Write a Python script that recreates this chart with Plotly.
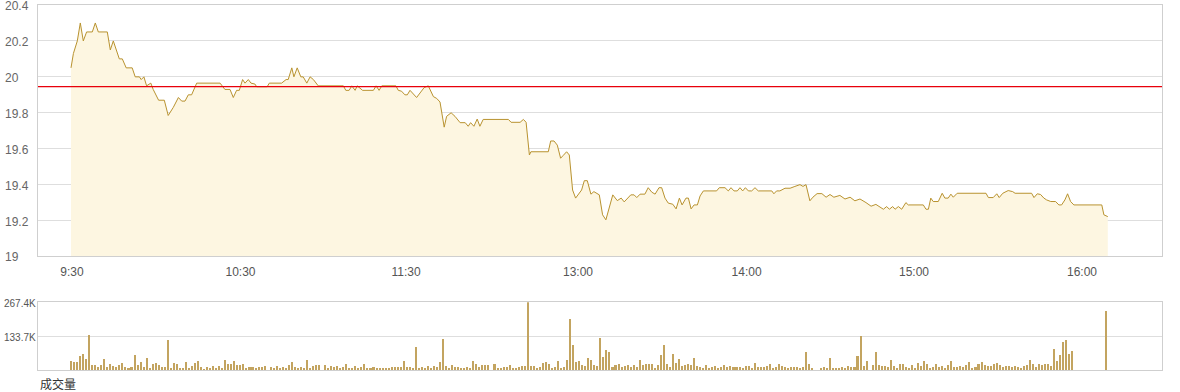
import plotly.graph_objects as go

# ---------------- data ----------------
price_idx = [0.0,0.8,2.1,3.1,4.1,5.2,7.1,8.1,9.1,12.1,13.1,14.1,16.1,17.1,18.4,20.4,21.4,22.8,23.4,24.3,
             25.2,26.6,27.4,29.2,31.1,32.4,34.1,35.8,36.9,38.0,39.1,40.2,41.9,49.7,51.3,53.0,54.1,55.2,56.1,57.2,
             58.0,59.1,60.0,61.3,61.9,65.4,66.1,70.2,71.7,72.4,73.6,74.3,75.4,76.6,77.4,78.6,79.7,80.8,82.4,90.8,
             91.6,92.7,93.6,94.7,95.4,97.2,100.8,101.7,102.7,103.6,108.3,109.1,110.2,111.3,112.1,113.0,115.2,117.7,119.1,120.8,
             121.9,123.0,124.4,125.2,126.7,128.0,129.7,131.4,132.4,133.2,134.3,135.4,136.3,137.4,145.8,146.7,149.7,150.8,151.7,152.4,
             152.8,153.3,159.1,159.9,161.0,162.1,163.2,164.1,165.2,166.1,166.7,167.2,168.2,169.1,170.2,171.1,172.1,173.3,174.3,176.1,
             177.2,178.3,179.4,180.6,182.1,183.4,184.4,186.6,187.7,188.6,189.7,191.3,192.4,193.6,194.7,196.0,196.9,198.0,199.1,200.6,
             201.7,202.8,203.7,205.0,205.8,206.7,207.7,208.8,209.7,210.8,215.2,216.1,218.0,219.1,220.0,221.0,222.1,223.0,223.9,224.8,
             225.8,226.9,228.0,229.1,233.6,234.3,235.2,236.3,238.0,239.7,241.3,243.0,244.0,245.0,246.3,247.3,248.7,250.3,251.7,253.0,
             254.3,256.3,258.0,259.7,261.3,263.0,265.0,266.7,268.3,269.7,270.8,271.9,272.8,273.9,274.7,275.8,276.9,278.3,279.1,284.1,
             285.0,285.8,286.6,287.4,289.1,290.4,291.3,292.4,293.3,294.1,295.4,305.0,305.8,307.4,308.6,309.4,310.6,312.4,313.9,314.7,
             320.2,321.0,322.1,323.2,324.3,325.2,326.6,328.2,329.3,330.2,331.3,332.2,333.2,334.3,343.6,344.3,345.6]

price = [20.05,20.13,20.20,20.30,20.20,20.25,20.25,20.30,20.25,20.25,20.15,20.20,20.10,20.10,20.05,20.05,20.00,20.00,19.985,20.00,
         19.95,19.965,19.93,19.87,19.87,19.785,19.83,19.885,19.865,19.865,19.90,19.90,19.965,19.965,19.93,19.93,19.885,19.925,19.925,19.985,
         19.965,19.985,19.965,19.96,19.945,19.945,19.965,19.965,19.985,19.985,20.05,20.00,20.05,20.00,20.00,19.965,20.00,19.985,19.95,19.95,
         19.925,19.925,19.95,19.925,19.95,19.925,19.925,19.95,19.925,19.95,19.95,19.925,19.92,19.90,19.90,19.925,19.885,19.94,19.95,19.89,
         19.88,19.86,19.72,19.78,19.80,19.78,19.745,19.745,19.725,19.745,19.725,19.765,19.725,19.763,19.763,19.747,19.747,19.763,19.747,19.652,
         19.565,19.583,19.583,19.643,19.643,19.62,19.547,19.563,19.583,19.565,19.472,19.37,19.325,19.347,19.37,19.422,19.422,19.347,19.361,19.343,
         19.232,19.204,19.278,19.343,19.311,19.325,19.304,19.343,19.343,19.328,19.347,19.347,19.383,19.358,19.347,19.383,19.383,19.325,19.297,19.291,
         19.265,19.325,19.287,19.325,19.325,19.265,19.287,19.287,19.337,19.365,19.365,19.383,19.383,19.365,19.383,19.365,19.365,19.383,19.365,19.383,
         19.365,19.365,19.383,19.365,19.365,19.349,19.365,19.365,19.38,19.38,19.39,19.40,19.39,19.40,19.31,19.33,19.35,19.35,19.33,19.345,
         19.33,19.34,19.32,19.33,19.31,19.32,19.30,19.28,19.29,19.275,19.263,19.278,19.263,19.278,19.263,19.278,19.263,19.30,19.287,19.287,
         19.263,19.263,19.325,19.306,19.306,19.352,19.325,19.325,19.347,19.33,19.352,19.352,19.328,19.328,19.349,19.328,19.352,19.367,19.361,19.352,
         19.352,19.328,19.349,19.345,19.325,19.315,19.306,19.306,19.287,19.287,19.315,19.349,19.306,19.287,19.287,19.232,19.222]

prev_close = 19.946

# per-minute volume, in thousands of shares
volume_k = [32.8,28.8,28.8,52.4,60.3,40.6,139.0,17.0,20.0,9.2,17.0,40.6,9.2,21.0,13.1,9.2,17.0,24.9,9.2,5.2,
            9.2,56.4,17.0,28.8,9.2,44.6,5.2,21.0,24.9,17.0,9.2,9.2,119.3,5.2,24.9,21.0,5.2,5.2,28.8,5.2,
            13.1,24.9,32.8,9.2,1.0,9.2,5.2,13.1,5.2,13.1,5.2,36.7,21.0,21.0,32.8,17.0,17.0,21.0,5.2,9.2,
            9.2,5.2,9.2,9.2,13.1,0.0,9.2,5.2,13.1,5.2,9.2,5.2,17.0,28.8,9.2,5.2,9.2,5.2,36.7,5.2,
            13.1,17.0,17.0,0.0,17.0,5.2,13.1,9.2,13.1,5.2,9.2,21.0,5.2,5.2,13.1,5.2,9.2,21.0,5.2,5.2,
            9.2,5.2,5.2,5.2,5.2,5.2,9.2,9.2,9.2,9.2,32.8,9.2,9.2,5.2,87.8,
            5.2,9.2,5.2,13.1,5.2,13.1,9.2,28.8,123.2,13.1,5.2,17.0,9.2,9.2,5.2,5.2,9.2,5.2,32.8,21.0,
            9.2,17.0,17.0,17.0,0.0,21.0,5.2,5.2,9.2,9.2,17.0,5.2,5.2,9.2,13.1,13.1,267.4,13.1,13.1,5.2,
            9.2,24.9,28.8,21.0,5.2,9.2,32.8,5.2,9.2,36.7,201.9,95.7,28.8,32.8,17.0,13.1,44.6,36.7,17.0,13.1,
            127.2,48.5,76.0,68.2,9.2,17.0,21.0,9.2,13.1,17.0,9.2,17.0,9.2,36.7,17.0,21.0,21.0,21.0,5.2,17.0,
            56.4,95.7,21.0,9.2,60.3,24.9,40.6,13.1,17.0,21.0,17.0,44.6,13.1,9.2,5.2,17.0,5.2,9.2,13.1,5.2,
            9.2,17.0,9.2,13.1,9.2,9.2,9.2,5.2,13.1,13.1,5.2,24.9,9.2,9.2,9.2,13.1,21.0,5.2,9.2,
            21.0,13.1,9.2,5.2,9.2,9.2,9.2,5.2,9.2,68.2,21.0,5.2,0.0,0.0,5.2,9.2,5.2,44.6,5.2,5.2,
            5.2,9.2,5.2,13.1,9.2,9.2,52.4,135.0,13.1,32.8,0.0,17.0,68.2,17.0,13.1,13.1,9.2,36.7,13.1,5.2,
            21.0,21.0,9.2,5.2,17.0,5.2,24.9,13.1,32.8,21.0,5.2,9.2,21.0,9.2,13.1,5.2,17.0,32.8,9.2,9.2,
            13.1,9.2,17.0,28.8,5.2,9.2,21.0,28.8,17.0,13.1,13.1,21.0,24.9,17.0,9.2,13.1,13.1,9.2,13.1,9.2,
            5.2,13.1,17.0,36.7,21.0,9.2,21.0,17.0,21.0,21.0,13.1,80.0,32.8,56.4,107.5,119.3,60.3,72.1]
closing_auction_idx = 342
closing_auction_k = 233.4

time_tick_idx = [0.3, 56.5, 111.7, 169.0, 225.2, 281.0, 337.0]
time_tick_text = ["9:30", "10:30", "11:30", "13:00", "14:00", "15:00", "16:00"]
price_ticks = [19.0, 19.2, 19.4, 19.6, 19.8, 20.0, 20.2, 20.4]
price_tick_text = ["19", "19.2", "19.4", "19.6", "19.8", "20", "20.2", "20.4"]
vol_ticks = [0, 133.7, 267.4]
vol_tick_text = ["", "133.7K", "267.4K"]
volume_title = "成交量"

# ---------------- figure ----------------
LINE = "#b8922f"
FILL = "#fdf6e1"
BAR = "#c3a460"
FONT = "Liberation Sans, Arial, sans-serif"

fig = go.Figure()
fig.add_trace(go.Scatter(x=price_idx, y=price, mode="lines",
                         line=dict(color=LINE, width=1), fill="tozeroy", fillcolor=FILL,
                         xaxis="x", yaxis="y", hoverinfo="skip", showlegend=False))
fig.add_trace(go.Bar(x=list(range(len(volume_k))) + [closing_auction_idx],
                     y=volume_k + [closing_auction_k],
                     marker=dict(color=BAR, line=dict(width=0)), width=0.68,
                     xaxis="x2", yaxis="y2", hoverinfo="skip", showlegend=False))

fig.add_shape(type="line", xref="x domain", yref="y", x0=0, x1=1, y0=prev_close, y1=prev_close,
              line=dict(color="#e8000b", width=1.3), layer="above")

annotations = []
for v, t in zip(price_ticks, price_tick_text):
    annotations.append(dict(xref="paper", yref="y", x=-0.0311, y=v, text=t, showarrow=False,
                            xanchor="left", yanchor="middle", yshift=-1,
                            font=dict(family=FONT, size=12, color="#666")))
for v, t in zip(vol_ticks, vol_tick_text):
    if t:
        annotations.append(dict(xref="paper", yref="y2", x=-0.032, y=v, text=t, showarrow=False,
                                xanchor="left", yanchor="middle", yshift=-1,
                                font=dict(family=FONT, size=10, color="#555")))
annotations.append(dict(xref="paper", yref="paper", x=0.0, y=-0.036, text=volume_title,
                        showarrow=False, xanchor="left", yanchor="middle",
                        font=dict(family="Noto Sans CJK SC", size=12, color="#333")))

fig.update_layout(
    width=1180, height=392,
    margin=dict(l=38, r=18, t=5, b=22),
    paper_bgcolor="white", plot_bgcolor="white",
    bargap=0, showlegend=False,
    font=dict(family=FONT),
    annotations=annotations,
    xaxis=dict(domain=[0, 1], anchor="y", range=[-11, 363.67],
               tickvals=time_tick_idx, ticktext=time_tick_text, ticks="",
               tickfont=dict(family=FONT, size=12, color="#555"),
               showgrid=False, zeroline=False, showline=True, mirror=True,
               linecolor="#cfcfcf", linewidth=1, ticklabelstandoff=4),
    yaxis=dict(domain=[0.311, 1], anchor="x", range=[19.0, 20.4],
               tickvals=price_ticks, showticklabels=False, ticks="",
               showgrid=True, gridcolor="#dedede", gridwidth=1, zeroline=False,
               showline=True, mirror=True, linecolor="#cfcfcf", linewidth=1),
    xaxis2=dict(domain=[0, 1], anchor="y2", range=[-10.91, 360.66],
                showticklabels=False, ticks="", showgrid=False, zeroline=False,
                showline=True, mirror=True, linecolor="#cfcfcf", linewidth=1),
    yaxis2=dict(domain=[0, 0.1855], anchor="x2", range=[0, 267.4],
                tickvals=vol_ticks, showticklabels=False, ticks="",
                showgrid=True, gridcolor="#dedede", gridwidth=1, zeroline=False,
                showline=True, mirror=True, linecolor="#cfcfcf", linewidth=1),
)

fig.write_html("out.html", config={"displayModeBar": False},
               post_script="document.body.style.margin='0';document.body.style.padding='0';"
                           "document.body.style.overflow='hidden';")
